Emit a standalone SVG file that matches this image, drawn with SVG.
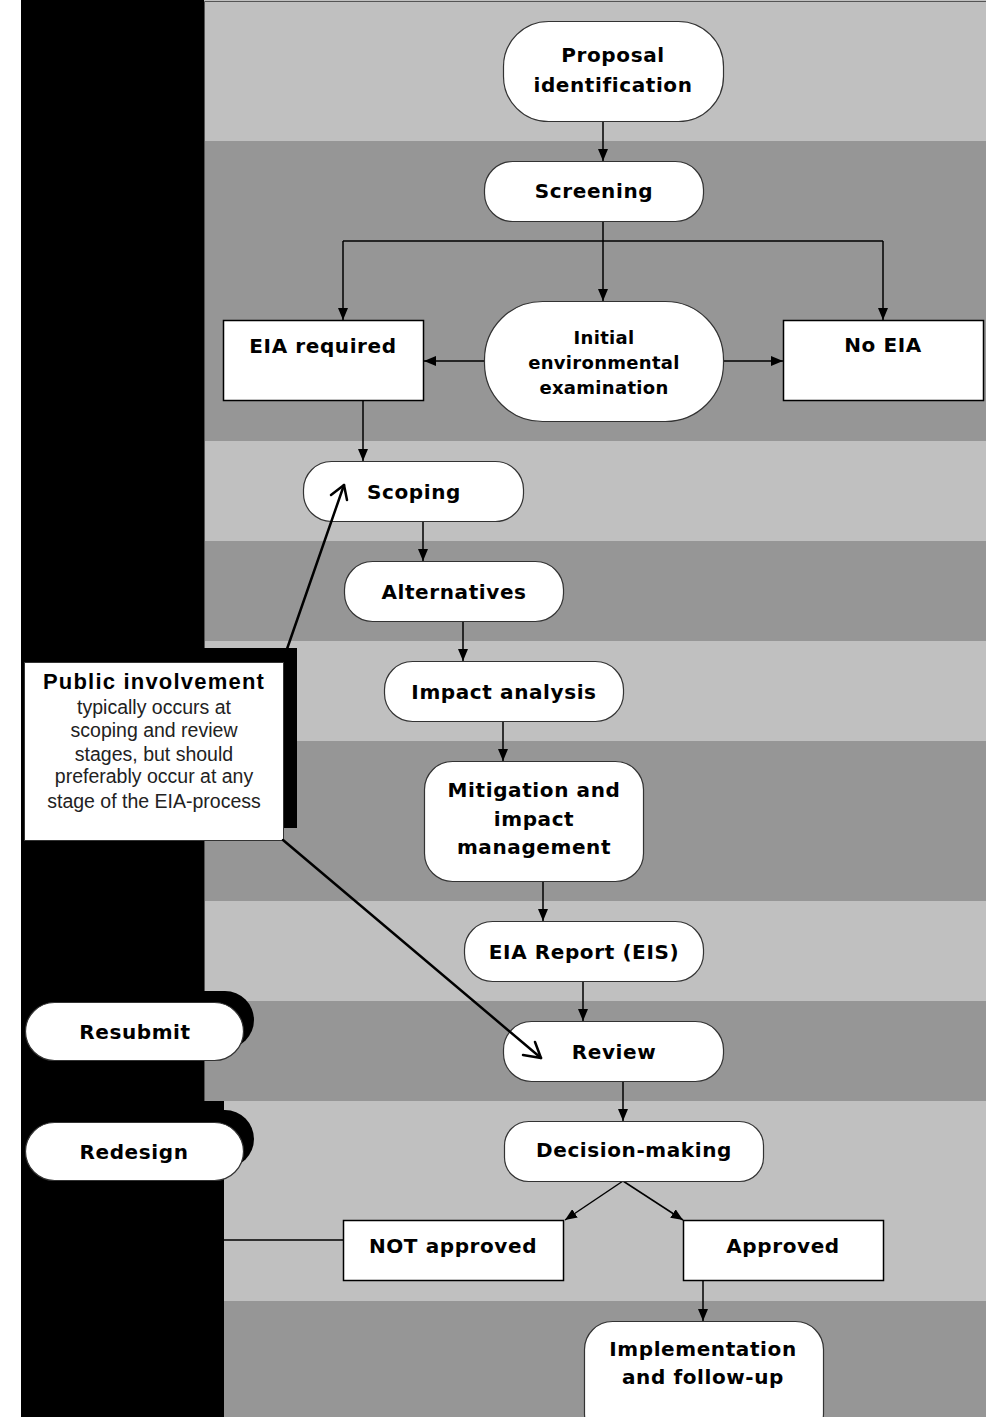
<svg xmlns="http://www.w3.org/2000/svg" width="986" height="1417" viewBox="0 0 986 1417">
<defs>
<style>
.lt{fill:#c0c0c0}
.dk{fill:#969696}
.nd{fill:#fff;stroke:#333;stroke-width:1.2}
.bx{fill:#fff;stroke:#000;stroke-width:1.5}
.t{font-family:"DejaVu Sans",Verdana,sans-serif;font-weight:bold;font-size:20px;letter-spacing:0.6px;fill:#000;text-anchor:middle}
.ts{font-size:18px;letter-spacing:0.3px}
.pb{font-family:"Liberation Sans",Arial,sans-serif;font-weight:bold;font-size:22px;letter-spacing:1.2px;fill:#000;text-anchor:middle}
.pt{font-family:"Liberation Sans",Arial,sans-serif;font-size:19.5px;fill:#222;text-anchor:middle}
.c{stroke:#000;stroke-width:1.5;fill:none}
.ca{stroke:#000;stroke-width:1.5;fill:none;marker-end:url(#ah)}
.pl{stroke:#000;stroke-width:2.5;fill:none;stroke-linecap:round;stroke-linejoin:round}
</style>
<marker id="ah" markerUnits="userSpaceOnUse" markerWidth="12" markerHeight="10" refX="12" refY="5" orient="auto">
<path d="M0,0 L12,5 L0,10 z" fill="#000"/>
</marker>
</defs>
<rect x="0" y="0" width="986" height="1417" fill="#fff"/>
<g id="background">
<rect x="21" y="0" width="965" height="1417" fill="#000"/>
<rect class="lt" x="204" y="0" width="782" height="141"/>
<rect class="dk" x="204" y="141" width="782" height="300"/>
<rect class="lt" x="204" y="441" width="782" height="100"/>
<rect class="dk" x="204" y="541" width="782" height="100"/>
<rect class="lt" x="204" y="641" width="782" height="100"/>
<rect class="dk" x="204" y="741" width="782" height="160"/>
<rect class="lt" x="204" y="901" width="782" height="100"/>
<rect class="dk" x="204" y="1001" width="782" height="100"/>
<rect class="lt" x="224" y="1101" width="762" height="200"/>
<rect class="dk" x="224" y="1301" width="762" height="116"/>
<path d="M204.5,1101 V1.5 H986" stroke="#555" stroke-width="1" fill="none"/>
</g>
<g id="connectors">
<line class="ca" x1="603" y1="121" x2="603" y2="161"/>
<line class="c" x1="603" y1="221" x2="603" y2="241"/>
<line class="c" x1="343" y1="241" x2="883" y2="241"/>
<line class="ca" x1="343" y1="241" x2="343" y2="320"/>
<line class="ca" x1="603" y1="241" x2="603" y2="301"/>
<line class="ca" x1="883" y1="241" x2="883" y2="320"/>
<line class="ca" x1="484" y1="361" x2="424" y2="361"/>
<line class="ca" x1="723" y1="361" x2="783" y2="361"/>
<line class="ca" x1="363" y1="401" x2="363" y2="461"/>
<line class="ca" x1="423" y1="521" x2="423" y2="561"/>
<line class="ca" x1="463" y1="621" x2="463" y2="661"/>
<line class="ca" x1="503" y1="721" x2="503" y2="761"/>
<line class="ca" x1="543" y1="881" x2="543" y2="921"/>
<line class="ca" x1="583" y1="981" x2="583" y2="1021"/>
<line class="ca" x1="623" y1="1081" x2="623" y2="1121"/>
<line class="ca" x1="623" y1="1181" x2="565" y2="1220"/>
<line class="ca" x1="623" y1="1181" x2="683" y2="1220"/>
<line class="ca" x1="703" y1="1280" x2="703" y2="1321"/>
<line class="c" x1="224" y1="1240" x2="343" y2="1240"/>
</g>
<g id="proposal">
<rect class="nd" x="503.5" y="21.5" width="220" height="100" rx="45" ry="45"/>
<text class="t" x="613" y="62">Proposal</text>
<text class="t" x="613" y="92">identification</text>
</g>
<g id="screening">
<rect class="nd" x="484.5" y="161.5" width="219" height="60" rx="28" ry="28"/>
<text class="t" x="594" y="198">Screening</text>
</g>
<g id="eia-required">
<rect class="bx" x="223.5" y="320.5" width="200" height="80"/>
<text class="t" x="323" y="353">EIA required</text>
</g>
<g id="iee">
<rect class="nd" x="484.5" y="301.5" width="239" height="120" rx="58" ry="58"/>
<text class="t ts" x="604" y="344">Initial</text>
<text class="t ts" x="604" y="369">environmental</text>
<text class="t ts" x="604" y="394">examination</text>
</g>
<g id="no-eia">
<rect class="bx" x="783.5" y="320.5" width="200" height="80"/>
<text class="t" x="883" y="352">No EIA</text>
</g>
<g id="scoping">
<rect class="nd" x="303.5" y="461.5" width="220" height="60" rx="28" ry="28"/>
<text class="t" x="414" y="499">Scoping</text>
</g>
<g id="alternatives">
<rect class="nd" x="344.5" y="561.5" width="219" height="60" rx="28" ry="28"/>
<text class="t" x="454" y="599">Alternatives</text>
</g>
<g id="impact-analysis">
<rect class="nd" x="384.5" y="661.5" width="239" height="60" rx="28" ry="28"/>
<text class="t" x="504" y="699">Impact analysis</text>
</g>
<g id="mitigation">
<rect class="nd" x="424.5" y="761.5" width="219" height="120" rx="28" ry="28"/>
<text class="t" x="534" y="797">Mitigation and</text>
<text class="t" x="534" y="826">impact</text>
<text class="t" x="534" y="854">management</text>
</g>
<g id="eia-report">
<rect class="nd" x="464.5" y="921.5" width="239" height="60" rx="28" ry="28"/>
<text class="t" x="584" y="959">EIA Report (EIS)</text>
</g>
<g id="review">
<rect class="nd" x="503.5" y="1021.5" width="220" height="60" rx="28" ry="28"/>
<text class="t" x="614" y="1059">Review</text>
</g>
<g id="decision">
<rect class="nd" x="504.5" y="1121.5" width="259" height="60" rx="24" ry="24"/>
<text class="t" x="634" y="1157">Decision-making</text>
</g>
<g id="not-approved">
<rect class="bx" x="343.5" y="1220.5" width="220" height="60"/>
<text class="t" x="453" y="1253">NOT approved</text>
</g>
<g id="approved">
<rect class="bx" x="683.5" y="1220.5" width="200" height="60"/>
<text class="t" x="783" y="1253">Approved</text>
</g>
<g id="implementation">
<rect class="nd" x="584.5" y="1321.5" width="239" height="120" rx="28" ry="28"/>
<text class="t" x="703" y="1356">Implementation</text>
<text class="t" x="703" y="1384">and follow-up</text>
</g>
<g id="resubmit">
<rect x="35" y="991" width="219" height="58" rx="29" ry="29" fill="#000"/>
<rect class="nd" x="25.5" y="1002.5" width="218" height="58" rx="29" ry="29"/>
<text class="t" x="135" y="1039">Resubmit</text>
</g>
<g id="redesign">
<rect x="35" y="1110" width="219" height="58" rx="29" ry="29" fill="#000"/>
<rect class="nd" x="25.5" y="1122.5" width="218" height="58" rx="29" ry="29"/>
<text class="t" x="134" y="1159">Redesign</text>
</g>
<g id="public-involvement">
<rect x="38" y="648" width="259" height="180" fill="#000"/>
<rect x="24.5" y="662.5" width="259" height="178" fill="#fff" stroke="#333" stroke-width="1"/>
<text class="pb" x="154" y="689">Public involvement</text>
<text class="pt" x="154" y="714">typically occurs at</text>
<text class="pt" x="154" y="737">scoping and review</text>
<text class="pt" x="154" y="761">stages, but should</text>
<text class="pt" x="154" y="783">preferably occur at any</text>
<text class="pt" x="154" y="808">stage of the EIA-process</text>
</g>
<g id="involvement-connectors">
<line class="pl" x1="287" y1="649" x2="344" y2="485"/>
<polyline class="pl" points="331,495 344,485 347,500"/>
<line class="pl" x1="283" y1="840" x2="541" y2="1058"/>
<polyline class="pl" points="523,1055 541,1058 535,1042"/>
</g>
</svg>
